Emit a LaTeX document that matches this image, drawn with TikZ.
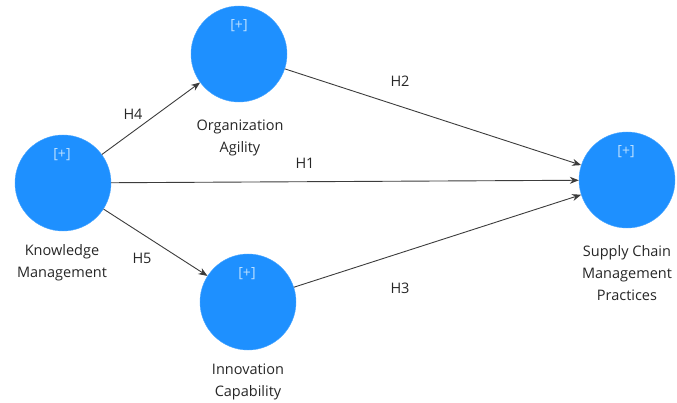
\documentclass[tikz,border=0pt]{standalone}
\usepackage{fontspec}
\setmainfont{Open Sans}
\usepackage{xcolor}
\usetikzlibrary{arrows.meta}
\definecolor{lvblue}{RGB}{30,144,255}
\definecolor{plusblue}{RGB}{190,225,255}
\definecolor{pathgray}{RGB}{60,60,60}
\begin{document}
\begin{tikzpicture}[x=1pt, y=-1pt, every node/.style={font=\fontsize{14.5}{22}\selectfont,
      text=black!85, align=center},
      latent/.style={circle, fill=lvblue, draw=lvblue!80, minimum size=96pt, inner sep=0pt},
      plus/.style={text=plusblue, font=\fontsize{14}{16}\selectfont},
      path/.style={draw=pathgray, line width=0.9pt, -{Stealth[length=9pt, width=7pt]}} ]
  \useasboundingbox (0,0) rectangle (677,403);
  % constructs
  \node[latent] (km) at (63,183) {};
  \node[latent] (oa) at (239,54) {};
  \node[latent] (ic) at (248,302) {};
  \node[latent] (scm) at (627,180) {};
  \node[plus] at (62,155) {[+]};
  \node[plus] at (239,26) {[+]};
  \node[plus] at (247,274) {[+]};
  \node[plus] at (626,152) {[+]};
  % construct names
  \node (kmlab) at (62,263) {Knowledge\\Management};
  \node (oalab) at (240,138) {Organization\\Agility};
  \node (iclab) at (248,382) {Innovation\\Capability};
  \node (scmlab) at (627,273) {Supply Chain\\Management\\Practices};
  % paths
  \draw[path] (km) -- (oa);
  \draw[path] (km) -- (ic);
  \draw[path] (km) -- (scm);
  \draw[path] (oa) -- (scm);
  \draw[path] (ic) -- (scm);
  \node (h4) at (133,114) {H4};
  \node (h5) at (142,258) {H5};
  \node (h1) at (305,163) {H1};
  \node (h2) at (400,81) {H2};
  \node (h3) at (400,288) {H3};
\end{tikzpicture}
\end{document}
